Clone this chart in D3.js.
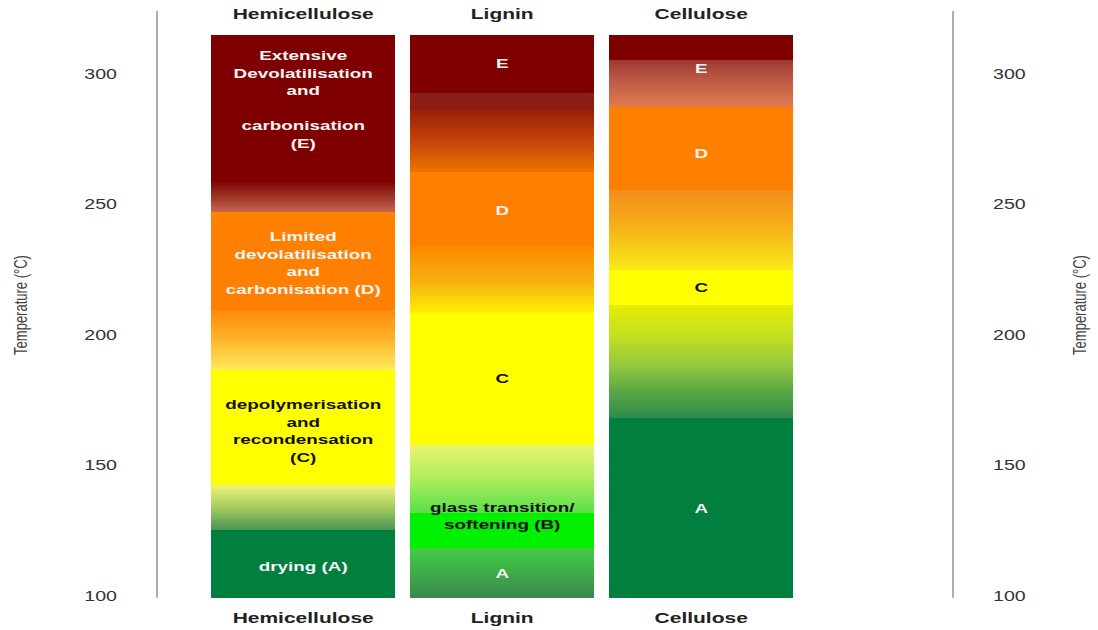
<!DOCTYPE html>
<html>
<head>
<meta charset="utf-8">
<script src="https://cdn.jsdelivr.net/npm/d3@7"></script>
<style>
  html, body { margin: 0; padding: 0; background: #fff; }
  svg { display: block; }
  text { font-family: "Liberation Sans", Arial, sans-serif; }
</style>
</head>
<body>
<svg id="chart" width="1098" height="630"></svg>
<script>
// ---------------- DATA ----------------
const categories = ["Hemicellulose", "Lignin", "Cellulose"];
const tickValues = [100, 150, 200, 250, 300];
const axisTitle = "Temperature (°C)";
const columnRange = [98.9, 314.6];     // temperature span of each column
const axisExtent = [98.9, 323.8];      // temperature span of the axis lines

// colour stops [temperature, colour], from top (hot) to bottom (cold);
// two stops at the same temperature mark a hard break
const hemicelluloseStops = [
  [314.6, "#7f0000"], [258.2, "#7f0000"],
  [258.2, "#800402"], [252.0, "#a23a2c"], [246.7, "#c8664e"],
  [246.7, "#ff8000"], [209.2, "#ff8000"],
  [209.2, "#fd8a0a"], [198.0, "#fcb42a"], [186.2, "#ffea5c"],
  [186.2, "#ffff00"], [142.1, "#ffff00"],
  [142.1, "#eef27a"], [134.0, "#a8cf60"], [124.9, "#4a9455"],
  [124.9, "#007f3f"], [98.9, "#007f3f"]
];
const ligninStops = [
  [314.6, "#7f0000"], [292.3, "#7f0000"],
  [292.3, "#8c1e1a"], [285.8, "#8e1c10"],
  [285.8, "#9a2008"], [275.0, "#c04008"], [262.1, "#ec7200"],
  [262.1, "#ff8000"], [233.3, "#ff8000"],
  [233.3, "#fc8a02"], [220.0, "#f6b010"], [208.0, "#fff000"],
  [208.0, "#ffff00"], [157.5, "#ffff00"],
  [157.5, "#e8f570"], [145.0, "#b0ee60"], [131.4, "#58e048"],
  [131.4, "#00f000"], [118.0, "#00f000"],
  [118.0, "#44cc44"], [108.0, "#3eaa48"], [98.9, "#3a8650"]
];
const celluloseStops = [
  [314.6, "#7f0000"], [305.0, "#7f0000"],
  [305.0, "#9c3a30"], [296.0, "#c25e48"], [287.0, "#e27a50"],
  [287.0, "#ff8000"], [255.2, "#ff8000"],
  [255.2, "#f48c1c"], [240.0, "#f6b41a"], [224.5, "#f8ea18"],
  [224.5, "#ffff00"], [211.1, "#ffff00"],
  [211.1, "#e4ec00"], [200.0, "#c6e020"], [188.0, "#94c840"],
  [178.0, "#5aa844"], [167.8, "#2f8a4c"],
  [167.8, "#007f3f"], [98.9, "#007f3f"]
];
const columnStops = [hemicelluloseStops, ligninStops, celluloseStops];

// phase labels: column, centre temperature, lines, colour
const phaseLabels = [
  { col: "Hemicellulose", t: 289.8, color: "#f4f4f4",
    lines: ["Extensive", "Devolatilisation", "and", "", "carbonisation", "(E)"] },
  { col: "Hemicellulose", t: 227.2, color: "#f4f4f4",
    lines: ["Limited", "devolatilisation", "and", "carbonisation (D)"] },
  { col: "Hemicellulose", t: 162.8, color: "#111",
    lines: ["depolymerisation", "and", "recondensation", "(C)"] },
  { col: "Hemicellulose", t: 111.1, color: "#f4f4f4", lines: ["drying (A)"] },
  { col: "Lignin", t: 303.8, color: "#f4f4f4", lines: ["E"] },
  { col: "Lignin", t: 247.5, color: "#f4f4f4", lines: ["D"] },
  { col: "Lignin", t: 183.1, color: "#111", lines: ["C"] },
  { col: "Lignin", t: 130.3, color: "#111", lines: ["glass transition/", "softening (B)"] },
  { col: "Lignin", t: 108.4, color: "#f4f4f4", lines: ["A"] },
  { col: "Cellulose", t: 301.9, color: "#f4f4f4", lines: ["E"] },
  { col: "Cellulose", t: 269.3, color: "#f4f4f4", lines: ["D"] },
  { col: "Cellulose", t: 218.0, color: "#111", lines: ["C"] },
  { col: "Cellulose", t: 133.3, color: "#f4f4f4", lines: ["A"] }
];

// ---------------- DRAW ----------------
const svg = d3.select("#chart");
const stretch = 1.45;   // horizontal stretch of all glyphs in the reference

const y = d3.scaleLinear().domain([100, 300]).range([595, 73]);
const x = d3.scaleBand().domain(categories).range([203.7, 800.7])
  .paddingInner(0.073).paddingOuter(0.0365);

// colour stripes
const stripes = [];
categories.forEach((cat, ci) => {
  const stops = columnStops[ci];
  for (let i = 0; i < stops.length - 1; i++) {
    const [t0, c0] = stops[i], [t1, c1] = stops[i + 1];
    if (t0 === t1) continue;
    if (c0 === c1) {
      stripes.push({ cat, top: t0, bot: t1, color: c0 });
    } else {
      const n = Math.max(1, Math.ceil((t0 - t1) / 0.5));
      const interp = d3.interpolateRgb(c0, c1);
      for (let k = 0; k < n; k++) {
        const a = t0 - (t0 - t1) * k / n, b = t0 - (t0 - t1) * (k + 1) / n;
        stripes.push({ cat, top: a, bot: b, color: interp((k + 0.5) / n) });
      }
    }
  }
});

svg.append("g").selectAll("rect").data(stripes).join("rect")
  .attr("x", d => x(d.cat))
  .attr("width", x.bandwidth())
  .attr("y", d => y(d.top))
  .attr("height", d => y(d.bot) - y(d.top) + 0.6)
  .attr("fill", d => d.color)
  .attr("shape-rendering", "crispEdges");

// phase labels
const lineH = 17.5;
const lg = svg.append("g");
phaseLabels.forEach(lab => {
  const cx = x(lab.col) + x.bandwidth() / 2;
  const n = lab.lines.length;
  const cy = y(lab.t);
  lab.lines.forEach((ln, i) => {
    if (!ln) return;
    const yy = cy + (i - (n - 1) / 2) * (n === 2 ? 16.5 : lineH) + 4.6;
    lg.append("text")
      .attr("transform", `translate(${cx},${yy}) scale(${stretch},1)`)
      .attr("text-anchor", "middle")
      .attr("font-size", 13)
      .attr("font-weight", "bold")
      .attr("fill", lab.color)
      .text(ln);
  });
});

// column titles (top and bottom)
["top", "bottom"].forEach(pos => {
  svg.append("g").selectAll("text").data(categories).join("text")
    .attr("transform", d => `translate(${x(d) + x.bandwidth() / 2},${pos === "top" ? 19 : 623}) scale(1.5,1)`)
    .attr("text-anchor", "middle")
    .attr("font-size", 14)
    .attr("font-weight", "bold")
    .attr("fill", "#222")
    .text(d => d);
});

// axis lines
[157, 953].forEach(ax => {
  svg.append("line")
    .attr("x1", ax).attr("x2", ax)
    .attr("y1", y(axisExtent[1])).attr("y2", y(axisExtent[0]))
    .attr("stroke", "#9a9a9a").attr("stroke-width", 1.6);
});

// tick labels via d3 axes
const leftAxis = svg.append("g").attr("transform", "translate(157,0)")
  .call(d3.axisLeft(y).tickValues(tickValues).tickSize(0).tickFormat(d3.format("d")));
leftAxis.select(".domain").remove();
leftAxis.selectAll("text")
  .attr("x", 0).attr("dy", null).attr("y", 5)
  .attr("transform", `translate(-40,0) scale(1.4,1)`)
  .attr("text-anchor", "end")
  .attr("font-size", 14).attr("font-family", "Liberation Sans, Arial, sans-serif")
  .attr("fill", "#333");

const rightAxis = svg.append("g").attr("transform", "translate(953,0)")
  .call(d3.axisRight(y).tickValues(tickValues).tickSize(0).tickFormat(d3.format("d")));
rightAxis.select(".domain").remove();
rightAxis.selectAll("text")
  .attr("x", 0).attr("dy", null).attr("y", 5)
  .attr("transform", `translate(40,0) scale(1.4,1)`)
  .attr("text-anchor", "start")
  .attr("font-size", 14).attr("font-family", "Liberation Sans, Arial, sans-serif")
  .attr("fill", "#333");

// axis titles
[[27, 305], [1086, 305]].forEach(([tx, ty]) => {
  svg.append("text")
    .attr("transform", `translate(${tx},${ty}) scale(${stretch},1) rotate(-90)`)
    .attr("text-anchor", "middle")
    .attr("font-size", 13)
    .attr("fill", "#444")
    .text(axisTitle);
});
</script>
</body>
</html>
